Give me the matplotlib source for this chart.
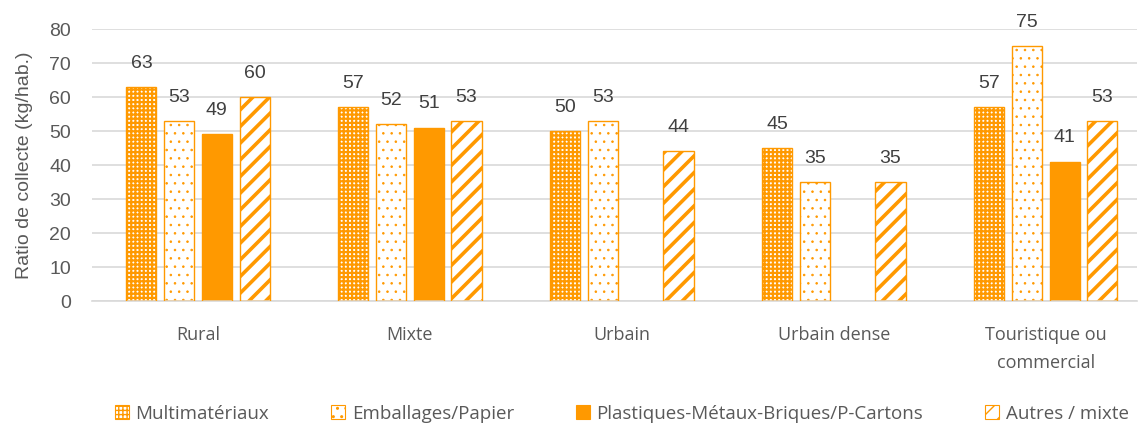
import numpy as np
import matplotlib.pyplot as plt
from matplotlib.patches import Patch

plt.rcParams['font.family'] = ['Open Sans', 'DejaVu Sans']

categories = ['Rural', 'Mixte', 'Urbain', 'Urbain dense', 'Touristique ou\ncommercial']
series_names = ['Multimatériaux', 'Emballages/Papier',
                'Plastiques-Métaux-Briques/P-Cartons', 'Autres / mixte']
multi = [63, 57, 50, 45, 57]
emballages = [53, 52, 53, 35, 75]
plastiques = [49, 51, np.nan, np.nan, 41]
autres = [60, 53, 44, 35, 53]
values = [multi, emballages, plastiques, autres]

orange = '#FF9900'
grey = '#595959'
# (facecolor, hatch, hatch linewidth) - hatch drawn in orange
styles = [('white', '++++', 1.6),
          ('white', '..', 0.6),
          (orange, None, 1.0),
          ('white', '//', 2.6)]


def set_hatch_lw(artist, lw):
    if hasattr(artist, 'set_hatch_linewidth'):
        artist.set_hatch_linewidth(lw)


fig = plt.figure(figsize=(11.42, 4.25), dpi=100)
ax = fig.add_axes([92 / 1142, 1 - 301 / 425, 1045 / 1142, 272 / 425])

x = np.arange(len(categories))
width = 0.142
step = 0.178
offsets = (np.arange(4) - 1.5) * step

for i, vals in enumerate(values):
    fc, hatch, hlw = styles[i]
    pos = x + offsets[i]
    with plt.rc_context({'hatch.linewidth': hlw}):
        bars = ax.bar(pos, vals, width, facecolor=fc, edgecolor=orange, hatch=hatch,
                      linewidth=0, zorder=2)
    for b in bars:
        set_hatch_lw(b, hlw)
    ax.bar(pos, vals, width, facecolor='none', edgecolor=orange, linewidth=1, zorder=3)
    for p, v in zip(pos, vals):
        if not np.isnan(v):
            ax.text(p, v + 4.5, '{:.0f}'.format(v), ha='center', va='bottom',
                    fontsize=14, color='#404040', family='Liberation Sans')

handles = []
for (fc, hatch, hlw), name in zip(styles, series_names):
    with plt.rc_context({'hatch.linewidth': hlw}):
        h = Patch(facecolor=fc, edgecolor=orange, hatch=hatch, linewidth=0.8, label=name)
    set_hatch_lw(h, hlw)
    handles.append(h)
leg = ax.legend(handles=handles, loc='center', bbox_to_anchor=(0.507, -0.415), ncol=4,
                frameon=False, fontsize=13.5, handlelength=0.75, handleheight=0.75,
                columnspacing=3.3, handletextpad=0.35, borderpad=0)
for t in leg.get_texts():
    t.set_color(grey)

ax.set_ylim(0, 80)
ax.set_yticks(range(0, 81, 10))
ax.set_xlim(-0.5, 4.43)
ax.set_xticks(x)
ax.set_xticklabels(categories, linespacing=1.7)
ax.tick_params(axis='x', length=0, labelsize=13, colors=grey, pad=18)
ax.tick_params(axis='y', length=0, labelsize=14, colors=grey, pad=15)
for t in ax.get_yticklabels():
    t.set_family('Liberation Sans')
ax.set_ylabel('Ratio de collecte (kg/hab.)', fontsize=14, color=grey,
              family='Liberation Sans', labelpad=12)
ax.grid(axis='y', color='#D9D9D9', linewidth=1.2, zorder=0)
for s in ['top', 'right', 'left']:
    ax.spines[s].set_visible(False)
ax.spines['bottom'].set_color('#D9D9D9')
ax.spines['bottom'].set_linewidth(1.2)

fig.savefig('out.png', dpi=100)
